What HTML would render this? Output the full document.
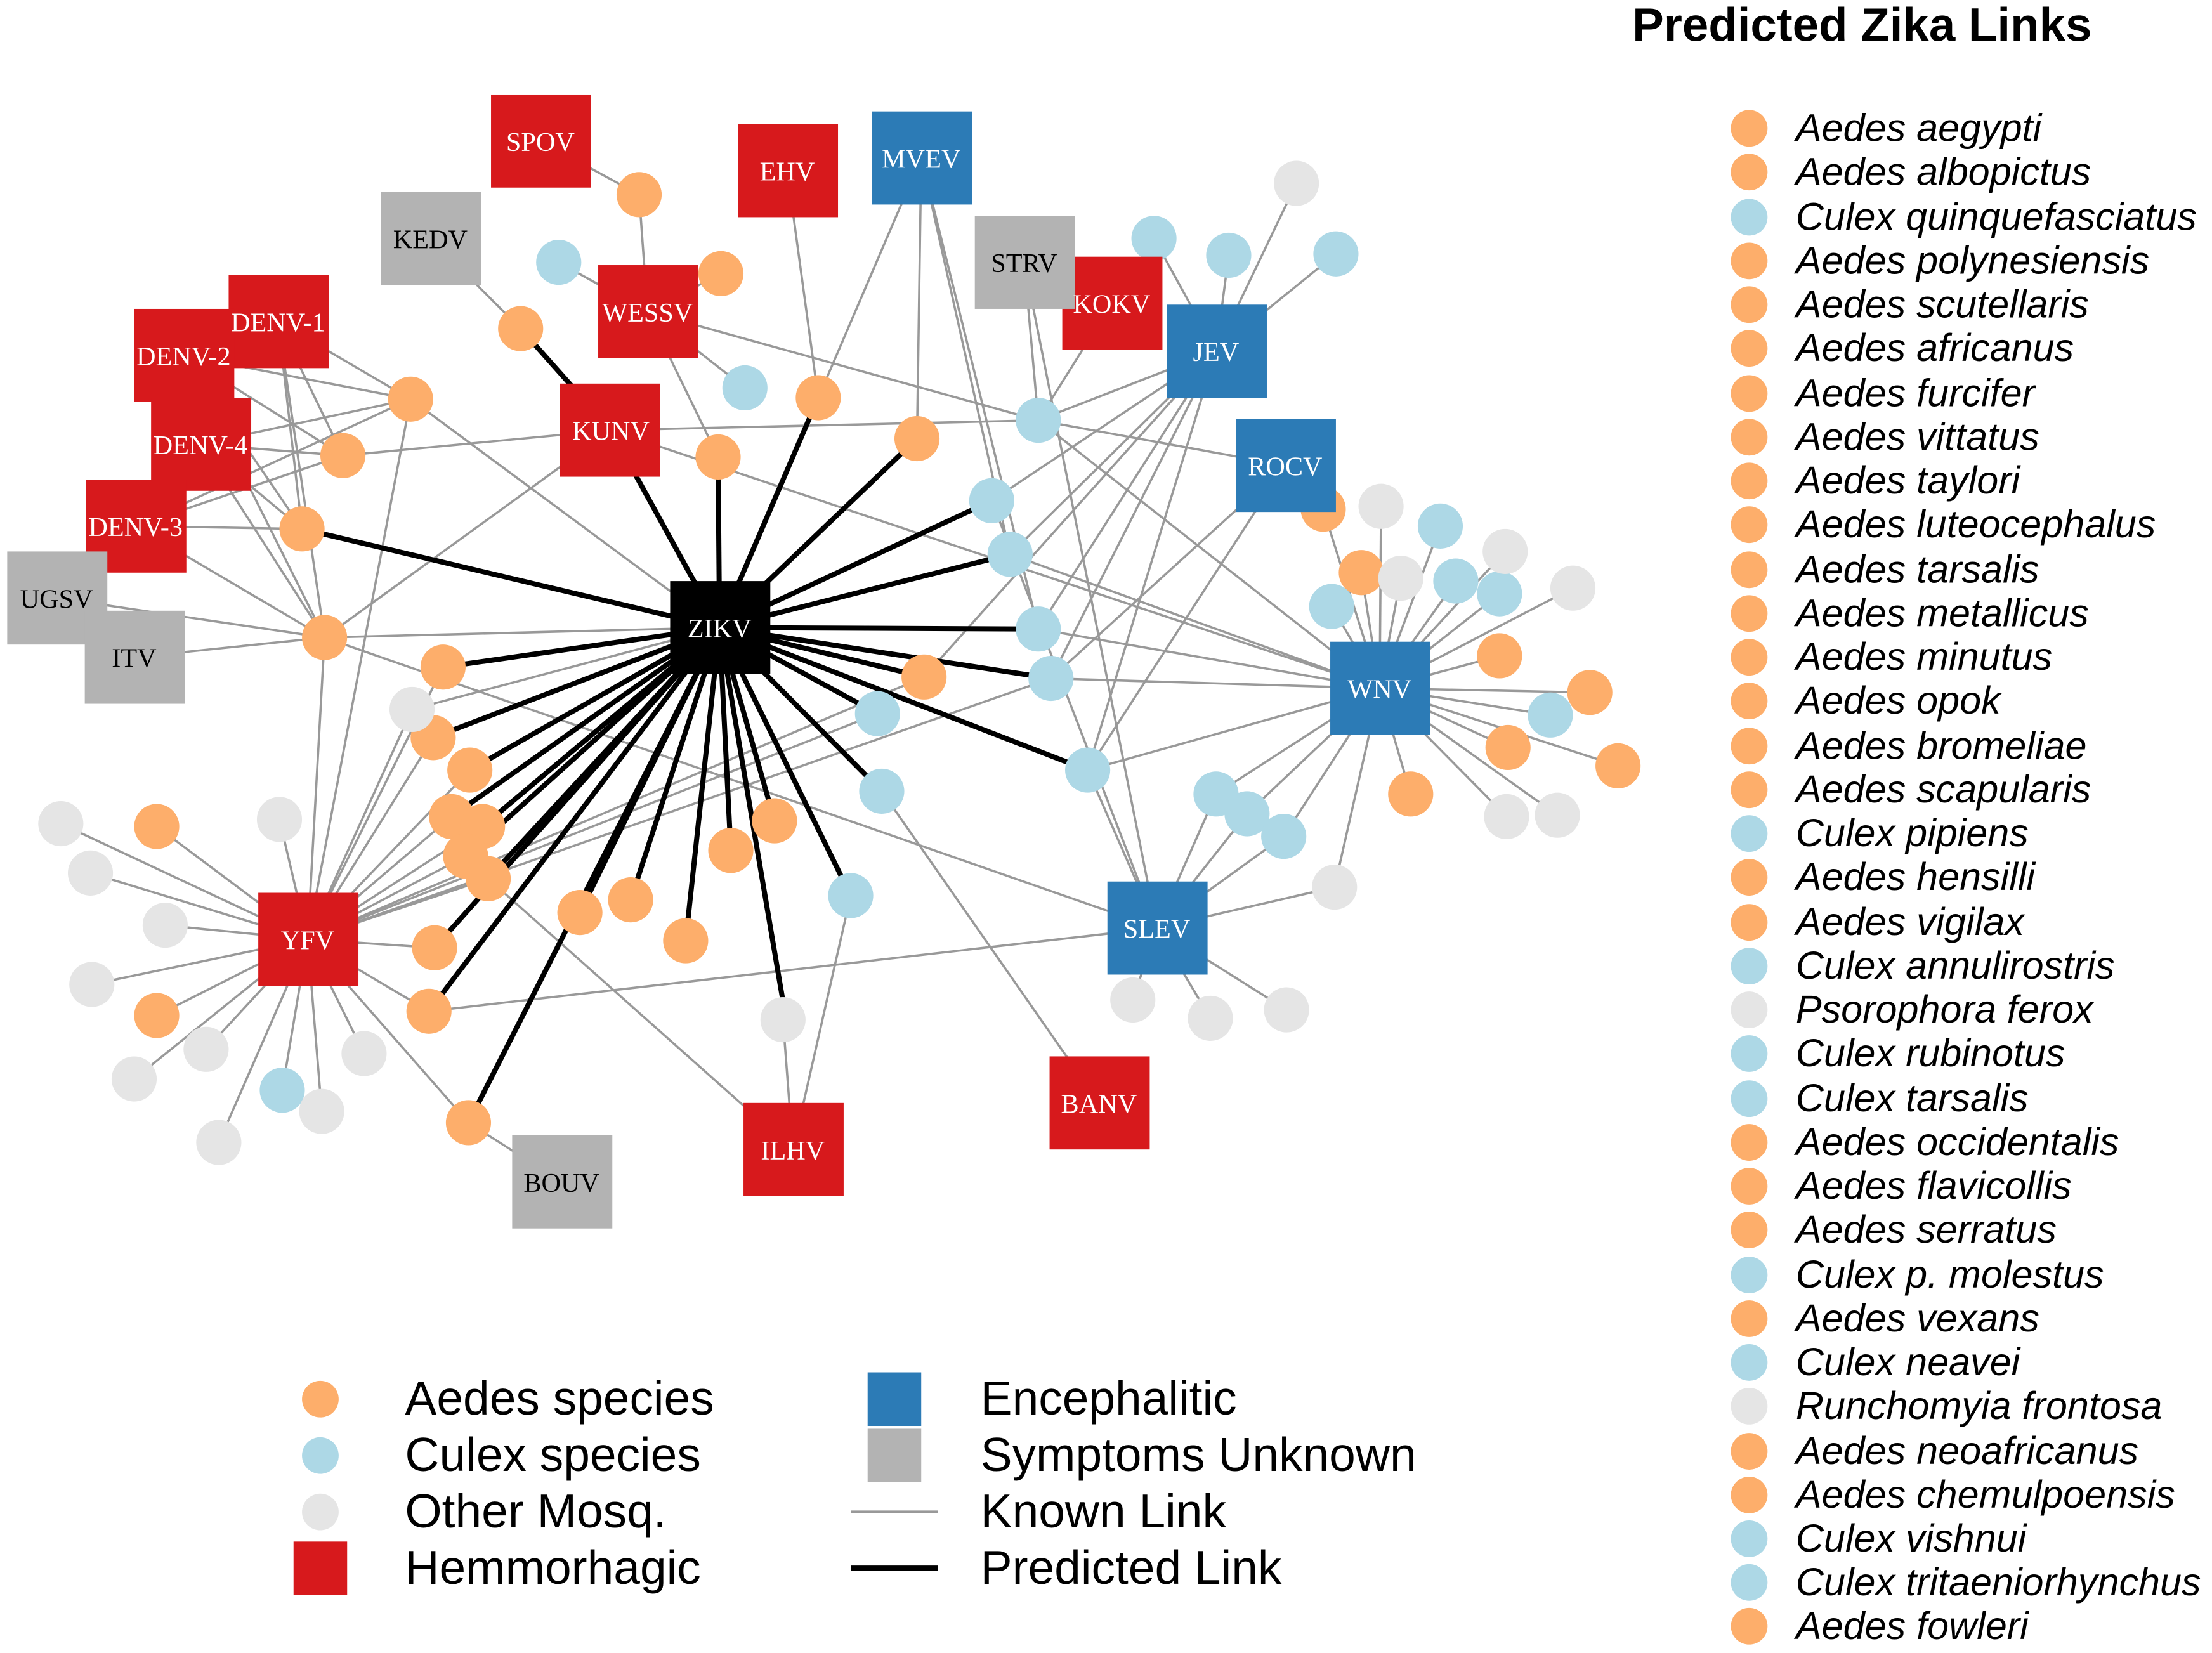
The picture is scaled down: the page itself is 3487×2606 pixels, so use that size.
<!DOCTYPE html>
<html><head><meta charset="utf-8"><style>html,body{margin:0;padding:0;background:#fff}svg{display:block}</style></head><body>
<svg width="3487" height="2606" viewBox="0 0 1568 1172" xmlns="http://www.w3.org/2000/svg">
<rect width="1568" height="1172" fill="#fff"/>
<g stroke="#999" stroke-width="1.6" fill="none">
<line x1="383" y1="100" x2="453" y2="138"/><line x1="453" y1="138" x2="459" y2="221"/>
<line x1="305" y1="169" x2="369" y2="233"/><line x1="459" y1="221" x2="396" y2="186"/>
<line x1="459" y1="221" x2="511" y2="194"/><line x1="459" y1="221" x2="528" y2="275"/>
<line x1="459" y1="221" x2="736" y2="298"/><line x1="459" y1="221" x2="509" y2="324"/>
<line x1="558" y1="121" x2="580" y2="282"/><line x1="653" y1="112" x2="580" y2="282"/>
<line x1="653" y1="112" x2="650" y2="311"/><line x1="653" y1="112" x2="716" y2="393"/>
<line x1="653" y1="112" x2="736" y2="446"/><line x1="726" y1="186" x2="736" y2="298"/>
<line x1="788" y1="215" x2="736" y2="298"/><line x1="726" y1="186" x2="820" y2="658"/>
<line x1="862" y1="249" x2="818" y2="169"/><line x1="862" y1="249" x2="871" y2="181"/>
<line x1="862" y1="249" x2="947" y2="180"/><line x1="862" y1="249" x2="919" y2="130"/>
<line x1="862" y1="249" x2="736" y2="298"/><line x1="862" y1="249" x2="703" y2="355"/>
<line x1="862" y1="249" x2="716" y2="393"/><line x1="862" y1="249" x2="736" y2="446"/>
<line x1="862" y1="249" x2="745" y2="481"/><line x1="862" y1="249" x2="655" y2="480"/>
<line x1="862" y1="249" x2="771" y2="546"/>
<line x1="433" y1="305" x2="736" y2="298"/><line x1="433" y1="305" x2="978" y2="488"/>
<line x1="911" y1="330" x2="745" y2="481"/><line x1="911" y1="330" x2="771" y2="546"/>
<line x1="736" y1="298" x2="978" y2="488"/><line x1="736" y1="298" x2="911" y2="330"/>
<line x1="978" y1="488" x2="938" y2="361"/><line x1="978" y1="488" x2="965" y2="406"/>
<line x1="978" y1="488" x2="979" y2="359"/><line x1="978" y1="488" x2="1021" y2="373"/>
<line x1="978" y1="488" x2="1067" y2="391"/><line x1="978" y1="488" x2="993" y2="410"/>
<line x1="978" y1="488" x2="1032" y2="412"/><line x1="978" y1="488" x2="1063" y2="421"/>
<line x1="978" y1="488" x2="1115" y2="417"/><line x1="978" y1="488" x2="944" y2="430"/>
<line x1="978" y1="488" x2="1063" y2="465"/><line x1="978" y1="488" x2="1127" y2="491"/>
<line x1="978" y1="488" x2="1099" y2="507"/><line x1="978" y1="488" x2="1069" y2="530"/>
<line x1="978" y1="488" x2="1147" y2="543"/><line x1="978" y1="488" x2="1000" y2="563"/>
<line x1="978" y1="488" x2="1068" y2="579"/><line x1="978" y1="488" x2="1104" y2="578"/>
<line x1="978" y1="488" x2="946" y2="629"/><line x1="978" y1="488" x2="862" y2="563"/>
<line x1="978" y1="488" x2="884" y2="577"/><line x1="978" y1="488" x2="910" y2="593"/>
<line x1="978" y1="488" x2="771" y2="546"/><line x1="978" y1="488" x2="745" y2="481"/>
<line x1="978" y1="488" x2="736" y2="446"/><line x1="978" y1="488" x2="716" y2="393"/>
<line x1="820" y1="658" x2="862" y2="563"/><line x1="820" y1="658" x2="884" y2="577"/>
<line x1="820" y1="658" x2="910" y2="593"/><line x1="820" y1="658" x2="946" y2="629"/>
<line x1="820" y1="658" x2="803" y2="709"/><line x1="820" y1="658" x2="858" y2="722"/>
<line x1="820" y1="658" x2="912" y2="716"/><line x1="820" y1="658" x2="304" y2="717"/>
<line x1="820" y1="658" x2="771" y2="546"/><line x1="820" y1="658" x2="703" y2="355"/>
<line x1="820" y1="658" x2="230" y2="452"/>
<line x1="779" y1="782" x2="625" y2="561"/><line x1="562" y1="815" x2="555" y2="723"/>
<line x1="562" y1="815" x2="603" y2="635"/><line x1="562" y1="815" x2="346" y2="623"/>
<line x1="398" y1="838" x2="332" y2="796"/>
<line x1="197" y1="228" x2="291" y2="283"/><line x1="197" y1="228" x2="214" y2="375"/>
<line x1="197" y1="228" x2="230" y2="452"/><line x1="197" y1="228" x2="243" y2="323"/>
<line x1="130" y1="252" x2="291" y2="283"/><line x1="130" y1="252" x2="243" y2="323"/>
<line x1="130" y1="252" x2="214" y2="375"/><line x1="130" y1="252" x2="230" y2="452"/>
<line x1="142" y1="315" x2="291" y2="283"/><line x1="142" y1="315" x2="243" y2="323"/>
<line x1="142" y1="315" x2="214" y2="375"/><line x1="142" y1="315" x2="230" y2="452"/>
<line x1="96" y1="373" x2="291" y2="283"/><line x1="96" y1="373" x2="243" y2="323"/>
<line x1="96" y1="373" x2="214" y2="375"/><line x1="96" y1="373" x2="230" y2="452"/>
<line x1="291" y1="283" x2="510" y2="445"/><line x1="243" y1="323" x2="433" y2="305"/>
<line x1="40" y1="424" x2="230" y2="452"/><line x1="95" y1="466" x2="230" y2="452"/>
<line x1="230" y1="452" x2="510" y2="445"/><line x1="230" y1="452" x2="218" y2="666"/>
<line x1="230" y1="452" x2="433" y2="305"/>
<line x1="218" y1="666" x2="43" y2="584"/><line x1="218" y1="666" x2="64" y2="619"/>
<line x1="218" y1="666" x2="111" y2="586"/><line x1="218" y1="666" x2="198" y2="581"/>
<line x1="218" y1="666" x2="117" y2="656"/><line x1="218" y1="666" x2="65" y2="698"/>
<line x1="218" y1="666" x2="111" y2="720"/><line x1="218" y1="666" x2="146" y2="744"/>
<line x1="218" y1="666" x2="95" y2="765"/><line x1="218" y1="666" x2="200" y2="773"/>
<line x1="218" y1="666" x2="258" y2="747"/><line x1="218" y1="666" x2="228" y2="788"/>
<line x1="218" y1="666" x2="155" y2="810"/><line x1="218" y1="666" x2="332" y2="796"/>
<line x1="218" y1="666" x2="292" y2="503"/><line x1="218" y1="666" x2="307" y2="523"/>
<line x1="218" y1="666" x2="333" y2="546"/><line x1="218" y1="666" x2="320" y2="579"/>
<line x1="218" y1="666" x2="342" y2="586"/><line x1="218" y1="666" x2="330" y2="607"/>
<line x1="218" y1="666" x2="346" y2="623"/><line x1="218" y1="666" x2="308" y2="672"/>
<line x1="218" y1="666" x2="304" y2="717"/><line x1="218" y1="666" x2="314" y2="473"/>
<line x1="218" y1="666" x2="622" y2="506"/><line x1="218" y1="666" x2="745" y2="481"/>
<line x1="218" y1="666" x2="655" y2="480"/><line x1="218" y1="666" x2="291" y2="283"/>
<line x1="292" y1="503" x2="510" y2="445"/>
</g>
<g stroke="#000" stroke-width="3.6" fill="none">
<line x1="510" y1="445" x2="433" y2="305"/><line x1="433" y1="305" x2="369" y2="233"/>
<line x1="510" y1="445" x2="214" y2="375"/><line x1="510" y1="445" x2="580" y2="282"/>
<line x1="510" y1="445" x2="650" y2="311"/><line x1="510" y1="445" x2="509" y2="324"/>
<line x1="510" y1="445" x2="703" y2="355"/><line x1="510" y1="445" x2="716" y2="393"/>
<line x1="510" y1="445" x2="736" y2="446"/><line x1="510" y1="445" x2="745" y2="481"/>
<line x1="510" y1="445" x2="655" y2="480"/><line x1="510" y1="445" x2="771" y2="546"/>
<line x1="510" y1="445" x2="622" y2="506"/><line x1="510" y1="445" x2="625" y2="561"/>
<line x1="510" y1="445" x2="603" y2="635"/><line x1="510" y1="445" x2="549" y2="582"/>
<line x1="510" y1="445" x2="518" y2="603"/><line x1="510" y1="445" x2="555" y2="710"/>
<line x1="510" y1="445" x2="411" y2="647"/><line x1="510" y1="445" x2="332" y2="796"/>
<line x1="510" y1="445" x2="447" y2="638"/><line x1="510" y1="445" x2="314" y2="473"/>
<line x1="510" y1="445" x2="307" y2="523"/><line x1="510" y1="445" x2="333" y2="546"/>
<line x1="510" y1="445" x2="320" y2="579"/><line x1="510" y1="445" x2="342" y2="586"/>
<line x1="510" y1="445" x2="330" y2="607"/><line x1="510" y1="445" x2="346" y2="623"/>
<line x1="510" y1="445" x2="304" y2="717"/><line x1="510" y1="445" x2="486" y2="667"/>
<line x1="510" y1="445" x2="308" y2="672"/>
</g>
<g fill="#fdae6b">
<circle cx="453" cy="138" r="16"/><circle cx="511" cy="194" r="16"/><circle cx="369" cy="233" r="16"/><circle cx="580" cy="282" r="16"/><circle cx="650" cy="311" r="16"/><circle cx="509" cy="324" r="16"/><circle cx="291" cy="283" r="16"/><circle cx="243" cy="323" r="16"/><circle cx="214" cy="375" r="16"/><circle cx="230" cy="452" r="16"/><circle cx="314" cy="473" r="16"/><circle cx="307" cy="523" r="16"/><circle cx="333" cy="546" r="16"/><circle cx="320" cy="579" r="16"/><circle cx="342" cy="586" r="16"/><circle cx="330" cy="607" r="16"/><circle cx="346" cy="623" r="16"/><circle cx="308" cy="672" r="16"/><circle cx="304" cy="717" r="16"/><circle cx="332" cy="796" r="16"/><circle cx="411" cy="647" r="16"/><circle cx="447" cy="638" r="16"/><circle cx="486" cy="667" r="16"/><circle cx="518" cy="603" r="16"/><circle cx="549" cy="582" r="16"/><circle cx="655" cy="480" r="16"/><circle cx="111" cy="586" r="16"/><circle cx="111" cy="720" r="16"/><circle cx="938" cy="361" r="16"/><circle cx="965" cy="406" r="16"/><circle cx="1063" cy="465" r="16"/><circle cx="1127" cy="491" r="16"/><circle cx="1069" cy="530" r="16"/><circle cx="1147" cy="543" r="16"/><circle cx="1000" cy="563" r="16"/>
</g>
<g fill="#add8e6">
<circle cx="396" cy="186" r="16"/><circle cx="528" cy="275" r="16"/><circle cx="818" cy="169" r="16"/><circle cx="871" cy="181" r="16"/><circle cx="947" cy="180" r="16"/><circle cx="736" cy="298" r="16"/><circle cx="703" cy="355" r="16"/><circle cx="716" cy="393" r="16"/><circle cx="736" cy="446" r="16"/><circle cx="745" cy="481" r="16"/><circle cx="622" cy="506" r="16"/><circle cx="625" cy="561" r="16"/><circle cx="603" cy="635" r="16"/><circle cx="771" cy="546" r="16"/><circle cx="862" cy="563" r="16"/><circle cx="884" cy="577" r="16"/><circle cx="910" cy="593" r="16"/><circle cx="1021" cy="373" r="16"/><circle cx="1032" cy="412" r="16"/><circle cx="1063" cy="421" r="16"/><circle cx="944" cy="430" r="16"/><circle cx="1099" cy="507" r="16"/><circle cx="200" cy="773" r="16"/>
</g>
<g fill="#e5e5e5">
<circle cx="919" cy="130" r="16"/><circle cx="979" cy="359" r="16"/><circle cx="1067" cy="391" r="16"/><circle cx="993" cy="410" r="16"/><circle cx="1115" cy="417" r="16"/><circle cx="1068" cy="579" r="16"/><circle cx="1104" cy="578" r="16"/><circle cx="946" cy="629" r="16"/><circle cx="803" cy="709" r="16"/><circle cx="858" cy="722" r="16"/><circle cx="912" cy="716" r="16"/><circle cx="555" cy="723" r="16"/><circle cx="292" cy="503" r="16"/><circle cx="43" cy="584" r="16"/><circle cx="64" cy="619" r="16"/><circle cx="198" cy="581" r="16"/><circle cx="117" cy="656" r="16"/><circle cx="65" cy="698" r="16"/><circle cx="146" cy="744" r="16"/><circle cx="95" cy="765" r="16"/><circle cx="258" cy="747" r="16"/><circle cx="228" cy="788" r="16"/><circle cx="155" cy="810" r="16"/>
</g>
<g font-family="Liberation Serif, serif" font-size="19" text-anchor="middle">
<g fill="#d7191c">
<rect x="348" y="67" width="71" height="66"/><rect x="523" y="88" width="71" height="66"/><rect x="753" y="182" width="71" height="66"/><rect x="424" y="188" width="71" height="66"/><rect x="162" y="195" width="71" height="66"/><rect x="95" y="219" width="71" height="66"/><rect x="107" y="282" width="71" height="66"/><rect x="61" y="340" width="71" height="66"/><rect x="397" y="272" width="71" height="66"/><rect x="183" y="633" width="71" height="66"/><rect x="744" y="749" width="71" height="66"/><rect x="527" y="782" width="71" height="66"/>
</g>
<g fill="#2c7bb6">
<rect x="618" y="79" width="71" height="66"/><rect x="827" y="216" width="71" height="66"/><rect x="876" y="297" width="71" height="66"/><rect x="943" y="455" width="71" height="66"/><rect x="785" y="625" width="71" height="66"/>
</g>
<g fill="#b3b3b3">
<rect x="270" y="136" width="71" height="66"/><rect x="691" y="153" width="71" height="66"/><rect x="5" y="391" width="71" height="66"/><rect x="60" y="433" width="71" height="66"/><rect x="363" y="805" width="71" height="66"/>
</g>
<rect x="475" y="412" width="71" height="66" fill="#000"/>
<g fill="#fff">
<text x="383" y="107">SPOV</text><text x="558" y="128">EHV</text><text x="788" y="222">KOKV</text><text x="459" y="228">WESSV</text><text x="197" y="235">DENV-1</text><text x="130" y="259">DENV-2</text><text x="142" y="322">DENV-4</text><text x="96" y="380">DENV-3</text><text x="433" y="312">KUNV</text><text x="218" y="673">YFV</text><text x="779" y="789">BANV</text><text x="562" y="822">ILHV</text>
<text x="653" y="119">MVEV</text><text x="862" y="256">JEV</text><text x="911" y="337">ROCV</text><text x="978" y="495">WNV</text><text x="820" y="665">SLEV</text><text x="510" y="452">ZIKV</text>
</g>
<g fill="#000">
<text x="305" y="176">KEDV</text><text x="726" y="193">STRV</text><text x="40" y="431">UGSV</text><text x="95" y="473">ITV</text><text x="398" y="845">BOUV</text>
</g>
</g>
<g font-family="Liberation Sans, sans-serif" font-size="33.7" fill="#000">
<circle cx="227" cy="992" r="13" fill="#fdae6b"/><circle cx="227" cy="1032" r="13" fill="#add8e6"/><circle cx="227" cy="1072" r="13" fill="#e5e5e5"/><rect x="208" y="1093" width="38" height="38" fill="#d7191c"/>
<text x="287" y="1003">Aedes species</text><text x="287" y="1043">Culex species</text><text x="287" y="1083">Other Mosq.</text><text x="287" y="1123">Hemmorhagic</text>
<rect x="615" y="973" width="38" height="38" fill="#2c7bb6"/><rect x="615" y="1013" width="38" height="38" fill="#b3b3b3"/>
<line x1="603" y1="1072" x2="665" y2="1072" stroke="#999" stroke-width="2"/><line x1="603" y1="1112" x2="665" y2="1112" stroke="#000" stroke-width="4"/>
<text x="695" y="1003">Encephalitic</text><text x="695" y="1043">Symptoms Unknown</text><text x="695" y="1083">Known Link</text><text x="695" y="1123">Predicted Link</text>
</g>
<text x="1320" y="29" font-family="Liberation Sans, sans-serif" font-size="33.5" font-weight="bold" text-anchor="middle">Predicted Zika Links</text>
<g font-family="Liberation Sans, sans-serif" font-size="27.5" font-style="italic">
<g fill="#fdae6b"><circle cx="1240" cy="91" r="13"/><circle cx="1240" cy="122" r="13"/><circle cx="1240" cy="185" r="13"/><circle cx="1240" cy="216" r="13"/><circle cx="1240" cy="247" r="13"/><circle cx="1240" cy="279" r="13"/><circle cx="1240" cy="310" r="13"/><circle cx="1240" cy="341" r="13"/><circle cx="1240" cy="372" r="13"/><circle cx="1240" cy="404" r="13"/><circle cx="1240" cy="435" r="13"/><circle cx="1240" cy="466" r="13"/><circle cx="1240" cy="497" r="13"/><circle cx="1240" cy="529" r="13"/><circle cx="1240" cy="560" r="13"/><circle cx="1240" cy="622" r="13"/><circle cx="1240" cy="654" r="13"/><circle cx="1240" cy="810" r="13"/><circle cx="1240" cy="841" r="13"/><circle cx="1240" cy="872" r="13"/><circle cx="1240" cy="935" r="13"/><circle cx="1240" cy="1029" r="13"/><circle cx="1240" cy="1060" r="13"/><circle cx="1240" cy="1153" r="13"/></g>
<g fill="#add8e6"><circle cx="1240" cy="154" r="13"/><circle cx="1240" cy="591" r="13"/><circle cx="1240" cy="685" r="13"/><circle cx="1240" cy="747" r="13"/><circle cx="1240" cy="779" r="13"/><circle cx="1240" cy="904" r="13"/><circle cx="1240" cy="966" r="13"/><circle cx="1240" cy="1091" r="13"/><circle cx="1240" cy="1122" r="13"/></g>
<g fill="#e5e5e5"><circle cx="1240" cy="716" r="13"/><circle cx="1240" cy="997" r="13"/></g>
<g fill="#000">
<text x="1273" y="100">Aedes aegypti</text><text x="1273" y="131">Aedes albopictus</text><text x="1273" y="163">Culex quinquefasciatus</text><text x="1273" y="194">Aedes polynesiensis</text><text x="1273" y="225">Aedes scutellaris</text><text x="1273" y="256">Aedes africanus</text><text x="1273" y="288">Aedes furcifer</text><text x="1273" y="319">Aedes vittatus</text><text x="1273" y="350">Aedes taylori</text><text x="1273" y="381">Aedes luteocephalus</text><text x="1273" y="413">Aedes tarsalis</text><text x="1273" y="444">Aedes metallicus</text><text x="1273" y="475">Aedes minutus</text><text x="1273" y="506">Aedes opok</text><text x="1273" y="538">Aedes bromeliae</text><text x="1273" y="569">Aedes scapularis</text><text x="1273" y="600">Culex pipiens</text><text x="1273" y="631">Aedes hensilli</text><text x="1273" y="663">Aedes vigilax</text><text x="1273" y="694">Culex annulirostris</text><text x="1273" y="725">Psorophora ferox</text><text x="1273" y="756">Culex rubinotus</text><text x="1273" y="788">Culex tarsalis</text><text x="1273" y="819">Aedes occidentalis</text><text x="1273" y="850">Aedes flavicollis</text><text x="1273" y="881">Aedes serratus</text><text x="1273" y="913">Culex p. molestus</text><text x="1273" y="944">Aedes vexans</text><text x="1273" y="975">Culex neavei</text><text x="1273" y="1006">Runchomyia frontosa</text><text x="1273" y="1038">Aedes neoafricanus</text><text x="1273" y="1069">Aedes chemulpoensis</text><text x="1273" y="1100">Culex vishnui</text><text x="1273" y="1131">Culex tritaeniorhynchus</text><text x="1273" y="1162">Aedes fowleri</text>
</g>
</g>
</svg>
</body></html>
